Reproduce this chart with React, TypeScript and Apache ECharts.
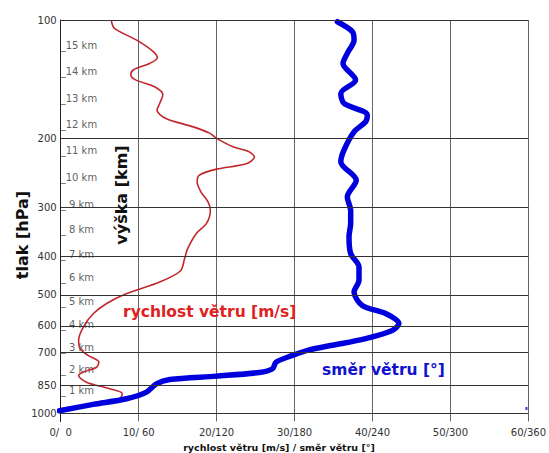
import React, { useEffect, useRef } from 'react';
import * as echarts from 'echarts';

// pressure levels shown on the vertical axis (hPa)
const pressureTicks = [100, 200, 300, 400, 500, 600, 700, 850, 1000];
// speed ticks (m/s); direction = speed * 6
const speedTicks = [0, 10, 20, 30, 40, 50, 60];

// height marks (km) and their pressure levels (hPa)
const kmHeights = [15, 14, 13, 12, 11, 10, 9, 8, 7, 6, 5, 4, 3, 2, 1];
const kmPressures = [118, 138, 161, 188, 219, 256, 299, 347, 401, 461, 529, 606, 692, 788, 891];

// wind speed profile
const speedPressure = [
  100.6, 105, 113, 120, 124.7, 129, 134, 138, 142, 148, 155, 163, 169.5, 178, 187, 194, 200, 210, 216.5, 223,
  232, 239.5, 248, 258, 274, 290, 305, 329, 349, 381, 404, 435, 464, 497, 526, 558, 604, 653, 686, 713,
  742, 764, 786, 802, 834, 867, 892, 928, 956, 988,
];
const speedValues = [
  6.5, 6.9, 9.9, 11.8, 12.4, 11.4, 9.3, 9.0, 9.6, 12.1, 13.1, 12.7, 12.35, 13.5, 17.0, 19.1, 20.0, 22.1, 24.2, 24.85,
  23.8, 20.0, 17.8, 17.5, 18.0, 18.9, 19.2, 18.7, 17.4, 16.3, 15.9, 15.35, 12.7, 8.4, 5.9, 4.2, 2.9, 2.3, 2.5, 3.5,
  4.9, 4.6, 2.9, 2.3, 3.3, 6.3, 7.9, 7.4, 4.2, 0.2,
];

// wind direction profile
const dirPressure = [
  101, 107, 112.4, 121.6, 129, 142, 153.7, 163, 174.5, 181.5, 192.5, 214, 229.6, 255.6, 282, 305, 329, 356, 393, 425,
  459, 492, 532, 558, 592, 616, 646, 672, 690, 713, 742, 771, 788, 805, 821, 842, 884, 919, 950, 986,
];
const dirValues = [
  213, 224.5, 225.8, 220.6, 217.3, 227, 215.6, 218.1, 236, 234.7, 225.8, 218.1, 215.6, 227.5, 220.6, 223.2, 223.2, 221.9, 223.2, 229.6,
  229.6, 225.8, 232.1, 250.1, 260.3, 255.2, 234.7, 209.1, 191.3, 178.4, 165.7, 163.1, 152.9, 119.7, 83.9, 73.6, 66, 50.6, 25, -1,
];
const dirSurfacePressure = [973];
const dirSurfaceValues = [358.5];

const FONT = '"DejaVu Sans", Verdana, sans-serif';

export default function App() {
  const ref = useRef<HTMLDivElement>(null);
  useEffect(() => {
    document.body.style.margin = '0';
    if (!ref.current) return;
    const chart = echarts.init(ref.current, undefined, { renderer: 'svg' });
    const option: any = {
      animation: false,
      backgroundColor: '#ffffff',
      grid: { left: 60.7, top: 20, right: 19, bottom: 31.5, containLabel: false },
      xAxis: [
        {
          type: 'value',
          min: speedTicks[0],
          max: speedTicks[speedTicks.length - 1],
          interval: 10,
          axisLine: { show: false },
          axisTick: { show: false },
          axisLabel: {
            fontFamily: FONT,
            fontSize: 10,
            color: '#333',
            margin: 6,
            formatter: (v: number) => `${v}/${String(v * 6).padStart(3, ' ')}`,
          },
          splitLine: { show: true, lineStyle: { color: '#666', width: 1 } },
        },
        { type: 'value', min: 0, max: 360, show: false },
      ],
      yAxis: {
        type: 'log',
        logBase: 10,
        min: 100,
        max: 1050,
        inverse: true,
        axisLine: { show: true, lineStyle: { color: '#222', width: 1 } },
        axisTick: { show: false },
        axisLabel: { show: false },
        splitLine: { show: false },
      },
      graphic: [
        {
          type: 'text',
          x: 22,
          y: 235,
          rotation: Math.PI / 2,
          style: { text: 'tlak [hPa]', font: `bold 16px ${FONT}`, fill: '#111', align: 'center', verticalAlign: 'middle' },
        },
        {
          type: 'text',
          x: 121,
          y: 195,
          rotation: Math.PI / 2,
          z: 10,
          style: { text: 'výška [km]', font: `bold 16px ${FONT}`, fill: '#111', align: 'center', verticalAlign: 'middle' },
        },
        {
          type: 'text',
          x: 123,
          y: 312,
          z: 10,
          style: { text: 'rychlost větru [m/s]', font: `bold 15.5px ${FONT}`, fill: '#dd2222', align: 'left', verticalAlign: 'middle' },
        },
        {
          type: 'text',
          x: 322,
          y: 370,
          z: 10,
          style: { text: 'směr větru [°]', font: `bold 15.5px ${FONT}`, fill: '#1010d0', align: 'left', verticalAlign: 'middle' },
        },
        {
          type: 'text',
          x: 279,
          y: 447,
          style: { text: 'rychlost větru [m/s] / směr větru [°]', font: `bold 9.5px ${FONT}`, fill: '#111', align: 'center', verticalAlign: 'middle' },
        },
      ],
      series: [
        {
          type: 'scatter',
          xAxisIndex: 0,
          symbolSize: 0,
          silent: true,
          data: kmHeights.map((h, i) => ({ name: String(h), value: [0, kmPressures[i]] })),
          label: {
            show: true,
            position: 'right',
            distance: 0,
            offset: [0, -3],
            fontFamily: FONT,
            fontSize: 10,
            color: '#333',
            formatter: (p: any) => `_${p.name.padStart(2, ' ')} km`,
          },
          markLine: {
            silent: true,
            symbol: ['none', 'none'],
            animation: false,
            lineStyle: { color: '#333', width: 1, type: 'solid' },
            label: {
              show: true,
              position: 'start',
              distance: 4,
              fontFamily: FONT,
              fontSize: 10,
              color: '#333',
              formatter: (p: any) => String(p.value),
            },
            emphasis: { disabled: true },
            data: pressureTicks.map((p) => ({ yAxis: p })),
          },
        },
        {
          type: 'line',
          xAxisIndex: 0,
          showSymbol: false,
          smooth: 0.3,
          z: 3,
          lineStyle: { color: '#c0282d', width: 1.6 },
          data: speedValues.map((v, i) => [v, speedPressure[i]]),
        },
        {
          type: 'line',
          xAxisIndex: 1,
          showSymbol: false,
          smooth: 0.3,
          clip: false,
          z: 4,
          lineStyle: { color: '#0000dd', width: 5.5, cap: 'round', join: 'round' },
          data: dirValues.map((v, i) => [v, dirPressure[i]]),
        },
        {
          type: 'scatter',
          xAxisIndex: 1,
          symbol: 'rect',
          symbolSize: [2, 3],
          itemStyle: { color: '#0000dd' },
          data: dirSurfaceValues.map((v, i) => [v, dirSurfacePressure[i]]),
        },
      ],
    };
    chart.setOption(option);
    return () => chart.dispose();
  }, []);
  return <div ref={ref} style={{ width: 549, height: 453 }} />;
}
